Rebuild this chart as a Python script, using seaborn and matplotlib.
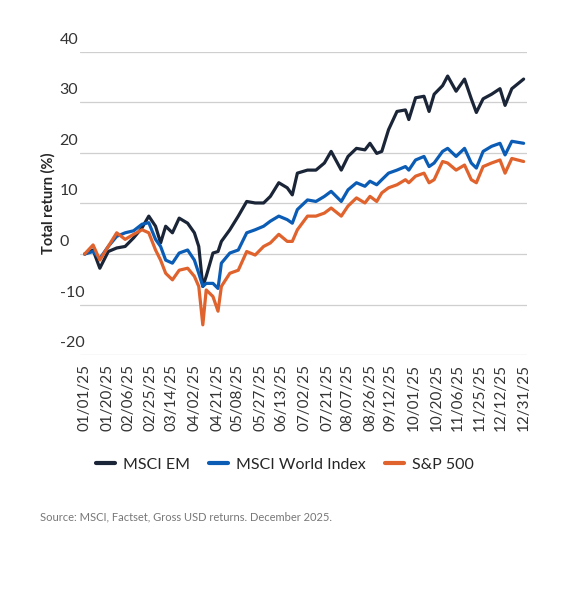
import numpy as np
import pandas as pd
import matplotlib
matplotlib.use("Agg")
import matplotlib.pyplot as plt
import matplotlib.transforms as mtransforms
import seaborn as sns

sns.set_style("white")
plt.rcParams["font.family"] = ["Lato", "DejaVu Sans"]

# position along the year (pixel-read, converted to day offsets from 01/01/25)
x_read = [40, 65, 85, 110, 135, 160, 185, 210, 230, 250, 265, 280, 300, 320, 345, 365,
          378, 390, 400, 420, 435, 445, 470, 495, 520, 545, 570, 590, 615, 640, 655, 670,
          700, 725, 750, 770, 800, 820, 845, 870, 885, 905, 920, 940, 965, 990, 1000, 1020,
          1045, 1060, 1075, 1100, 1115, 1140, 1165, 1185, 1200, 1220, 1245, 1270, 1285, 1305, 1340]

msci_em = [0, 0.8, -2.8, 0.5, 1.2, 1.5, 3.2, 5.2, 7.5, 5.5, 2.2, 5.5, 4.2, 7.1, 6.1, 4.2,
           1.5, -6.4, -4.4, 0.2, 0.5, 2.5, 4.8, 7.5, 10.4, 10.1, 10.1, 11.4, 14.1, 13.1, 11.7, 16.0,
           16.6, 16.6, 18.0, 20.3, 16.6, 19.3, 20.9, 20.6, 21.9, 19.9, 20.3, 24.6, 28.2, 28.5, 26.6, 30.9,
           31.2, 28.2, 31.6, 33.3, 35.2, 32.2, 34.6, 30.7, 28.0, 30.7, 31.6, 32.7, 29.4, 32.7, 34.6]

msci_world = [0, 0.5, -0.9, 1.5, 3.5, 4.2, 4.6, 5.9, 6.2, 2.9, 1.5, -1.2, -1.8, 0.2, 0.8, -1.2,
              -3.8, -6.4, -5.8, -5.8, -6.8, -1.8, 0.2, 0.8, 4.2, 4.8, 5.5, 6.5, 7.5, 6.8, 6.1, 8.8,
              10.7, 10.4, 11.4, 12.4, 10.4, 12.7, 14.1, 13.4, 14.4, 13.7, 14.7, 16.0, 16.6, 17.3, 16.6, 18.6,
              19.3, 17.3, 18.0, 20.3, 20.9, 19.3, 20.9, 18.0, 17.0, 20.3, 21.3, 21.9, 19.6, 22.3, 21.9]

sp500 = [0, 1.8, -1.2, 1.5, 4.2, 2.9, 3.9, 4.8, 4.2, 0.8, -1.2, -3.8, -5.1, -3.2, -2.8, -4.4,
         -6.4, -14.0, -7.1, -8.4, -11.3, -6.4, -3.8, -3.2, 0.5, -0.2, 1.5, 2.2, 3.9, 2.5, 2.5, 4.8,
         7.5, 7.5, 8.1, 9.1, 7.5, 9.5, 11.1, 10.1, 11.4, 10.4, 12.1, 13.1, 13.7, 14.7, 14.1, 15.4,
         16.0, 14.1, 14.7, 18.3, 18.0, 16.6, 17.6, 14.7, 14.1, 17.3, 18.0, 18.6, 16.0, 18.9, 18.3]

tick_labels = ["01/01/25", "01/20/25", "02/06/25", "02/25/25", "03/14/25", "04/02/25", "04/21/25",
               "05/08/25", "05/27/25", "06/13/25", "07/02/25", "07/21/25", "08/07/25", "08/26/25",
               "09/12/25", "10/01/25", "10/20/25", "11/06/25", "11/25/25", "12/12/25", "12/31/25"]

start = pd.Timestamp("2025-01-01")
dates = [start + pd.Timedelta(days=(x - 40) * 364 / 1300) for x in x_read]
df = pd.DataFrame({"date": dates * 3,
                   "value": msci_em + msci_world + sp500,
                   "series": ["MSCI EM"] * len(dates) + ["MSCI World Index"] * len(dates)
                   + ["S&P 500"] * len(dates)})

colors = {"MSCI EM": "#1b2538", "MSCI World Index": "#0b5cb5", "S&P 500": "#e0622c"}

fig = plt.figure(figsize=(5.7, 6.02), dpi=100)
ax = fig.add_axes([0.14, 0.41, 0.785, 0.504])
sns.lineplot(data=df, x="date", y="value", hue="series", palette=colors, linewidth=2.3,
             ax=ax, legend=False)

ax.set_ylim(-20, 40)
ax.set_xlim(start - pd.Timedelta(days=4), pd.Timestamp("2025-12-31") + pd.Timedelta(days=3))
yt = [-20, -10, 0, 10, 20, 30, 40]
ax.set_yticks(yt)
ax.set_yticklabels([])
ax.tick_params(axis="y", length=0)
ax.grid(axis="y", color="#cfcfcf", linewidth=0.9)
trans = mtransforms.blended_transform_factory(ax.transAxes, ax.transData)
for v in yt:
    ax.text(-0.045, v + 1.0, str(v), transform=trans, ha="left", va="bottom",
            fontsize=11.5, color="#333333")

ax.set_xticks([pd.Timestamp(t) for t in tick_labels])
ax.set_xticklabels(tick_labels, rotation=90, fontsize=11, color="#333333")
ax.tick_params(axis="x", length=0, pad=6)
ax.set_xlabel("")
ax.set_ylabel("Total return (%)", fontsize=10.5, fontweight="bold", labelpad=14)
for s in ax.spines.values():
    s.set_visible(False)

handles = [plt.Line2D([], [], color=c, linewidth=3) for c in colors.values()]
fig.legend(handles, list(colors.keys()), loc="center", bbox_to_anchor=(0.5, 0.228), ncol=3,
           frameon=False, fontsize=11.5, handlelength=1.2, columnspacing=1.2, handletextpad=0.5)

fig.text(0.07, 0.135, "Source: MSCI, Factset, Gross USD returns. December 2025.",
         fontsize=8, color="#777777")

fig.savefig("out.png", dpi=100)
